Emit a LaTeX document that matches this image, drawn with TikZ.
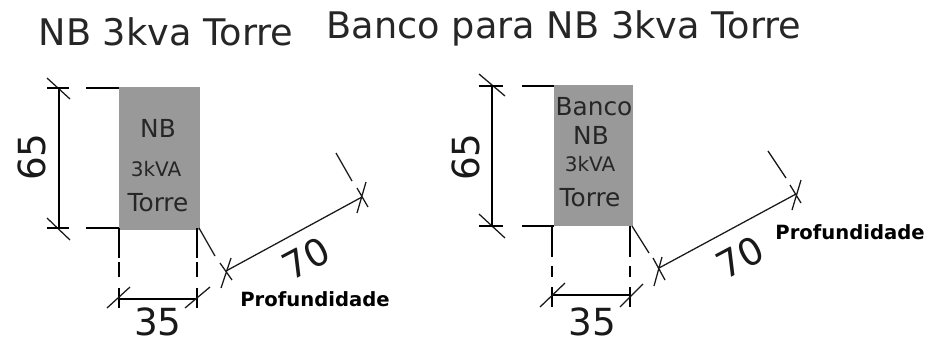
\documentclass[tikz,border=0pt]{standalone}
\usepackage{fontspec}
\setmainfont{DejaVu Sans}
\tikzset{
  x=0.75pt,y=-0.75pt,
  dimline/.style={draw=black,line width=1.15pt},
  thinline/.style={draw=black!90,line width=0.95pt},
  towerbox/.style={fill=black!40,draw=none,inner sep=0pt,anchor=north west},
  title/.style={font=\fontsize{27.5}{30}\selectfont,text=black!85,inner sep=0pt},
  dimtext/.style={font=\fontsize{28}{30}\selectfont,text=black!90,inner sep=0pt},
  boxtext/.style={font=\fontsize{18.6}{20}\selectfont,text=black!85,inner sep=0pt},
  smalltext/.style={font=\fontsize{15}{16}\selectfont,text=black!85,inner sep=0pt},
  prof/.style={font=\bfseries\fontsize{14.7}{16}\selectfont,inner sep=0pt},
}
\begin{document}
\begin{tikzpicture}
\useasboundingbox (0,0) rectangle (927,340);
\node[title] (tL) at (166,32) {NB 3kva Torre};
\node[title] (tR) at (564,28) {Banco para NB 3kva Torre};
% left box
\node[towerbox,minimum width=60.75pt,minimum height=107.25pt] (bL) at (119,87) {};
\node[boxtext] (l1) at (158,128) {NB};
\node[smalltext] (l2) at (156,169) {3kVA};
\node[boxtext] (l3) at (158,203) {Torre};
% left dims
\coordinate (La) at (59,88); \coordinate (Lb) at (59,228);
\draw[dimline] (La) -- (Lb);
\coordinate (La1) at (47,78); \coordinate (La2) at (70,99);
\coordinate (Lb1) at (47,218); \coordinate (Lb2) at (70,240);
\draw[thinline] (La1) -- (La2); \draw[thinline] (Lb1) -- (Lb2);
\coordinate (Le1) at (47,88); \coordinate (Le2) at (69,88); \coordinate (Le3) at (86,88); \coordinate (Le4) at (119,88);
\coordinate (Lf1) at (47,228); \coordinate (Lf2) at (69,228); \coordinate (Lf3) at (86,228); \coordinate (Lf4) at (119,228);
\draw[dimline] (Le1) -- (Le2) (Le3) -- (Le4) (Lf1) -- (Lf2) (Lf3) -- (Lf4);
\coordinate (Lg1) at (119,258); \coordinate (Lg2) at (119,262); \coordinate (Lg3) at (119,277); \coordinate (Lg4) at (119,288); \coordinate (Lg5) at (119,308);
\coordinate (Lh0) at (197,228); \coordinate (Lh1) at (197,258); \coordinate (Lh2) at (197,262); \coordinate (Lh3) at (197,277); \coordinate (Lh4) at (197,288); \coordinate (Lh5) at (197,308);
\draw[dimline] (Lf4) -- (Lg1) (Lg2) -- (Lg3) (Lg4) -- (Lg5) (Lh0) -- (Lh1) (Lh2) -- (Lh3) (Lh4) -- (Lh5);
\coordinate (Lc) at (119,299); \coordinate (Ld) at (197,299);
\draw[dimline] (Lc) -- (Ld);
\coordinate (Lc1) at (107,308); \coordinate (Lc2) at (130,287);
\coordinate (Ld1) at (185,308); \coordinate (Ld2) at (210,287);
\draw[thinline] (Lc1) -- (Lc2) (Ld1) -- (Ld2);
\coordinate (Lp) at (226,271); \coordinate (Lq) at (362,197);
\draw[thinline] (Lp) -- (Lq);
\coordinate (Lp1) at (220,263); \coordinate (Lp2) at (232,280); \coordinate (Lp3) at (231,258); \coordinate (Lp4) at (221,288);
\coordinate (Lq1) at (357,188); \coordinate (Lq2) at (368,207); \coordinate (Lq3) at (366,182); \coordinate (Lq4) at (357,213);
\draw[thinline] (Lp1) -- (Lp2) (Lp3) -- (Lp4) (Lq1) -- (Lq2) (Lq3) -- (Lq4);
\coordinate (Lr1) at (199,228); \coordinate (Lr2) at (215,256); \coordinate (Lr3) at (336,153); \coordinate (Lr4) at (352,181);
\draw[thinline] (Lr1) -- (Lr2) (Lr3) -- (Lr4);
\node[dimtext,rotate=90] (L65) at (32,157) {65};
\node[dimtext] (L35) at (158,322) {35};
\node[dimtext,rotate=28] (L70) at (306,258) {70};
\node[prof] (Lprof) at (315,299) {Profundidade};
% right box
\node[towerbox,minimum width=59.25pt,minimum height=105.75pt] (bR) at (554,85) {};
\node[boxtext] (r1) at (594,107) {Banco};
\node[boxtext] (r2) at (591,135) {NB};
\node[smalltext] (r3) at (590,164) {3kVA};
\node[boxtext] (r4) at (590,198) {Torre};
% right dims
\coordinate (Ra) at (492,86); \coordinate (Rb) at (492,226);
\draw[dimline] (Ra) -- (Rb);
\coordinate (Ra1) at (479,74); \coordinate (Ra2) at (505,96);
\coordinate (Rb1) at (479,214); \coordinate (Rb2) at (505,238);
\draw[thinline] (Ra1) -- (Ra2) (Rb1) -- (Rb2);
\coordinate (Re1) at (479,86); \coordinate (Re2) at (503,86); \coordinate (Re3) at (522,86); \coordinate (Re4) at (554,86);
\coordinate (Rf1) at (479,226); \coordinate (Rf2) at (503,226); \coordinate (Rf3) at (522,226); \coordinate (Rf4) at (554,226);
\draw[dimline] (Re1) -- (Re2) (Re3) -- (Re4) (Rf1) -- (Rf2) (Rf3) -- (Rf4);
\coordinate (Rg0) at (552,226); \coordinate (Rg1) at (552,257); \coordinate (Rg2) at (552,266); \coordinate (Rg3) at (552,277); \coordinate (Rg4) at (552,287); \coordinate (Rg5) at (552,307);
\coordinate (Rh0) at (630,226); \coordinate (Rh1) at (630,257); \coordinate (Rh2) at (630,266); \coordinate (Rh3) at (630,277); \coordinate (Rh4) at (630,287); \coordinate (Rh5) at (630,307);
\draw[dimline] (Rg0) -- (Rg1) (Rg2) -- (Rg3) (Rg4) -- (Rg5) (Rh0) -- (Rh1) (Rh2) -- (Rh3) (Rh4) -- (Rh5);
\coordinate (Rc) at (552,295); \coordinate (Rd) at (630,295);
\draw[dimline] (Rc) -- (Rd);
\coordinate (Rc1) at (540,307); \coordinate (Rc2) at (565,283);
\coordinate (Rd1) at (620,307); \coordinate (Rd2) at (643,284);
\draw[thinline] (Rc1) -- (Rc2) (Rd1) -- (Rd2);
\coordinate (Rp) at (659,268); \coordinate (Rq) at (796,194);
\draw[thinline] (Rp) -- (Rq);
\coordinate (Rp1) at (653,258); \coordinate (Rp2) at (665,280); \coordinate (Rp3) at (662,257); \coordinate (Rp4) at (654,286);
\coordinate (Rq1) at (790,185); \coordinate (Rq2) at (801,203); \coordinate (Rq3) at (801,180); \coordinate (Rq4) at (792,210);
\draw[thinline] (Rp1) -- (Rp2) (Rp3) -- (Rp4) (Rq1) -- (Rq2) (Rq3) -- (Rq4);
\coordinate (Rr1) at (632,226); \coordinate (Rr2) at (649,253); \coordinate (Rr3) at (768,151); \coordinate (Rr4) at (786,178);
\draw[thinline] (Rr1) -- (Rr2) (Rr3) -- (Rr4);
\node[dimtext,rotate=90] (R65) at (466,157) {65};
\node[dimtext] (R35) at (592,322) {35};
\node[dimtext,rotate=28] (R70) at (740,257) {70};
\node[prof] (Rprof) at (850,232) {Profundidade};
\end{tikzpicture}
\end{document}
